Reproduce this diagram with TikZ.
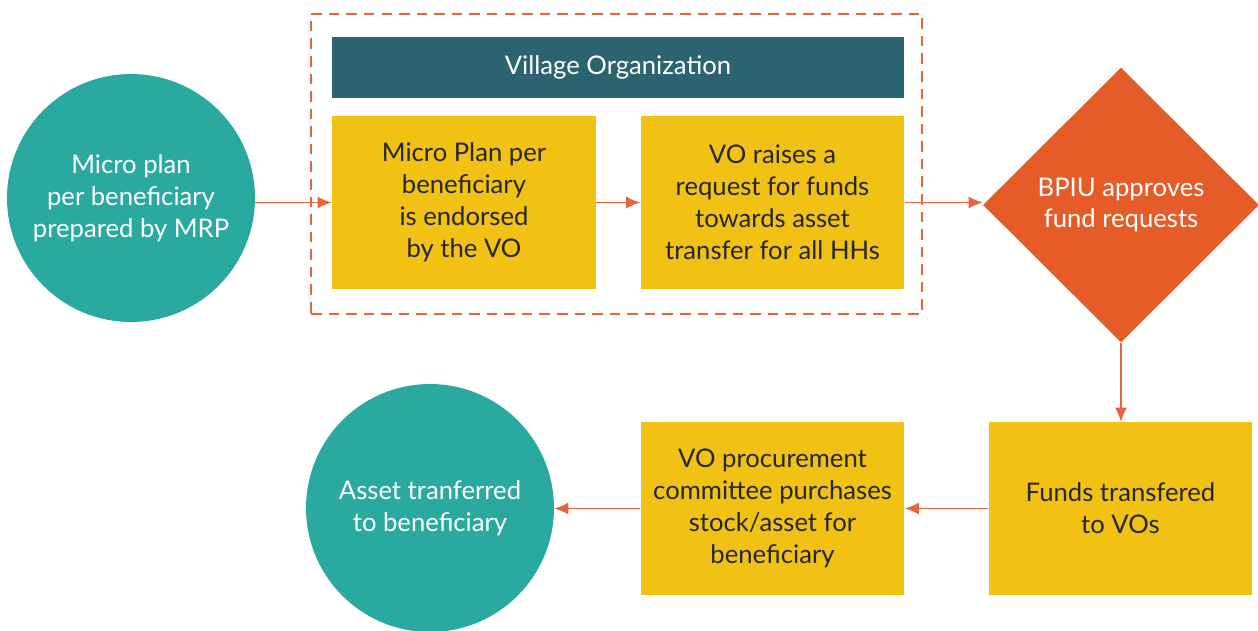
\documentclass[tikz,border=0pt]{standalone}
\usepackage{fontspec}
\setmainfont{Lato}
\usetikzlibrary{arrows.meta,shapes.geometric}
\definecolor{tealc}{HTML}{2AA9A0}
\definecolor{darkteal}{HTML}{2B6470}
\definecolor{boxyellow}{HTML}{F1C214}
\definecolor{bpiuorange}{HTML}{E65C28}
\definecolor{linkorange}{HTML}{E8643A}
\tikzset{stage/.style = {shape=circle,fill=tealc,text=white,minimum size=4.96cm,inner sep=0pt,align=center}}
\tikzset{task/.style = {shape=rectangle,fill=boxyellow,text=black!85,minimum width=5.28cm,minimum height=3.46cm,inner sep=0pt,align=center}}
\tikzset{edge/.style = {->,> = {Latex[length=2.8mm,width=2.4mm]},draw=linkorange,line width=0.8pt}}

\begin{document}
\begin{tikzpicture}[x=0.02cm,y=-0.02cm,font=\fontsize{14.6}{18.2}\selectfont]
        \useasboundingbox (0,0) rectangle (1258,630);
        \node[draw=linkorange,line width=1.4pt,dash pattern=on 6pt off 4pt,minimum width=12.22cm,minimum height=6cm] (vo) at (616.5,164) {};
        \node[fill=darkteal,text=white,minimum width=11.44cm,minimum height=1.22cm] (bar) at (618,67.5) {Village Organization};

        \node[stage] (plan) at (131,198) {Micro plan\\per beneficiary\\prepared by MRP};
        \node[task] (endorse) at (464,202.5) {Micro Plan per\\beneficiary\\is endorsed\\by the VO};
        \node[task] (request) at (772.5,202.5) {VO raises a\\request for funds\\towards asset\\transfer for all HHs};
        \node[shape=diamond,fill=bpiuorange,text=white,minimum width=5.52cm,minimum height=5.5cm,inner sep=0pt,align=center] (bpiu) at (1121,205) {BPIU approves\\fund requests};
        \node[task] (funds) at (1120.5,508.5) {Funds transfered\\to VOs};
        \node[task] (procure) at (772.5,508.5) {VO procurement\\committee purchases\\stock/asset for\\beneficiary};
        \node[stage] (asset) at (430,508) {Asset tranferred\\to beneficiary};

        \draw[edge] (plan.east |- endorse) -- (endorse);
        \draw[edge] (endorse) -- (request);
        \draw[edge] (request.east) -- (request.east -| bpiu.west);
        \draw[edge] (bpiu.south) -- (bpiu.south |- funds.north);
        \draw[edge] (funds) -- (procure);
        \draw[edge] (procure.west) -- (procure.west -| asset.east);
      \end{tikzpicture}
\end{document}
